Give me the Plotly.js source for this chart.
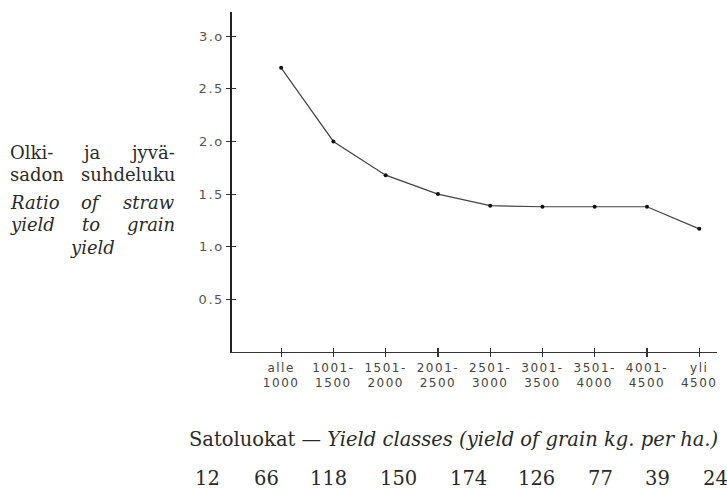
<!DOCTYPE html>
<html>
<head>
<meta charset="utf-8">
<script src="https://cdn.plot.ly/plotly-3.0.1.min.js"></script>
<style>
  html, body { margin: 0; padding: 0; background: #fff; }
  #chart { width: 727px; height: 489px; }
  .xtick text, .ytick text { letter-spacing: 1.5px; }
</style>
</head>
<body>
<div id="chart"></div>
<script>
// ---- data ----
const categories = ["alle<br>1000", "1001-<br>1500", "1501-<br>2000", "2001-<br>2500", "2501-<br>3000",
                    "3001-<br>3500", "3501-<br>4000", "4001-<br>4500", "yli<br>4500"];
const ratio = [2.70, 2.00, 1.68, 1.50, 1.39, 1.38, 1.38, 1.38, 1.17];
const counts = [12, 66, 118, 150, 174, 126, 77, 39, 24];
const yTickVals = [0.5, 1.0, 1.5, 2.0, 2.5, 3.0];
const yTickText = ["0.5", "1.o", "1.5", "2.o", "2.5", "3.o"];
const yTitleFi = [["Olki-", "ja", "jyvä-"], ["sadon", "suhdeluku"]];
const yTitleEn = [["Ratio", "of", "straw"], ["yield", "to", "grain"], ["yield"]];
const xTitle = "Satoluokat — <i>Yield classes (yield of grain kg. per ha.)</i>";

// ---- layout geometry (pixels) ----
const W = 727, H = 489;
const M = { l: 232, r: 10, t: 12, b: 137 };
const PW = W - M.l - M.r, PH = H - M.t - M.b;
const px = x => (x - M.l) / PW;          // pixel -> paper x
const py = y => (H - M.b - y) / PH;      // pixel -> paper y

const serif = "DejaVu Serif, serif";
const sans = "DejaVu Sans, sans-serif";
const txtColor = "#2a2a2a";
const fsLeft = 18;
const fsBottom = 19.5;

const annotations = [];
function word(text, x, y, anchor, italic) {
  annotations.push({
    text: italic ? "<i>" + text + "</i>" : text,
    xref: "paper", yref: "paper", x: px(x), y: py(y),
    xanchor: anchor, yanchor: "middle", showarrow: false,
    font: { family: serif, size: fsLeft, color: txtColor }
  });
}
// left title, justified like the original
const colX = [[8, "left"], [91, "center"], [177, "right"]];
const rowsFi = [152, 174];
yTitleFi.forEach((row, r) => {
  if (row.length === 3) row.forEach((w, i) => word(w, colX[i][0], rowsFi[r], colX[i][1], false));
  else { word(row[0], 8, rowsFi[r], "left", false); word(row[1], 177, rowsFi[r], "right", false); }
});
const rowsEn = [202, 224, 247];
yTitleEn.forEach((row, r) => {
  if (row.length === 3) row.forEach((w, i) => word(w, colX[i][0], rowsEn[r], colX[i][1], true));
  else word(row[0], 92, rowsEn[r], "center", true);
});
// bottom title
annotations.push({
  text: xTitle, xref: "paper", yref: "paper", x: px(187), y: py(439),
  xanchor: "left", yanchor: "middle", showarrow: false,
  font: { family: serif, size: fsBottom, color: txtColor }
});
// counts row
const countX = [207, 266, 328, 398, 468, 536, 600, 657, 715];
counts.forEach((c, i) => {
  annotations.push({
    text: String(c), xref: "paper", yref: "paper", x: px(countX[i]), y: py(478),
    xanchor: "center", yanchor: "middle", showarrow: false,
    font: { family: serif, size: fsBottom, color: txtColor }
  });
});

const xRange = [-0.94, 8.34];
const yRange = [0, 3.23];

const traces = [
  {
    x: categories, y: ratio, type: "scatter", mode: "lines+markers",
    line: { color: "#444", width: 1.2 },
    marker: { color: "#111", size: 4 },
    hoverinfo: "skip", showlegend: false
  },
  {
    x: categories, y: ratio, xaxis: "x2", yaxis: "y2", type: "scatter", mode: "none",
    hoverinfo: "skip", showlegend: false
  }
];

const layout = {
  width: W, height: H,
  margin: M,
  paper_bgcolor: "#fff", plot_bgcolor: "#fff",
  showlegend: false,
  xaxis: {
    type: "category", range: xRange, showgrid: false, zeroline: false,
    showline: true, linecolor: "#333", linewidth: 1.2,
    ticks: "outside", ticklen: 4, tickwidth: 1.2, tickcolor: "#333",
    tickfont: { family: sans, size: 12, color: "#444" }
  },
  yaxis: {
    range: yRange, showgrid: false, zeroline: false,
    showline: true, linecolor: "#222", linewidth: 1.6,
    tickvals: yTickVals, ticktext: yTickText,
    ticks: "outside", ticklen: 4, tickwidth: 1.2, tickcolor: "#333",
    tickfont: { family: sans, size: 13, color: "#555" }
  },
  xaxis2: {
    type: "category", range: xRange, overlaying: "x", anchor: "y2", side: "bottom",
    showgrid: false, zeroline: false, showline: false,
    ticks: "inside", ticklen: 4, tickwidth: 1.2, tickcolor: "#333", showticklabels: false
  },
  yaxis2: {
    range: yRange, overlaying: "y", anchor: "x2", side: "left",
    showgrid: false, zeroline: false, showline: false,
    tickvals: yTickVals, ticks: "inside", ticklen: 4, tickwidth: 1.2, tickcolor: "#333",
    showticklabels: false
  },
  annotations: annotations
};

Plotly.newPlot("chart", traces, layout, { staticPlot: true, displayModeBar: false });
</script>
</body>
</html>
